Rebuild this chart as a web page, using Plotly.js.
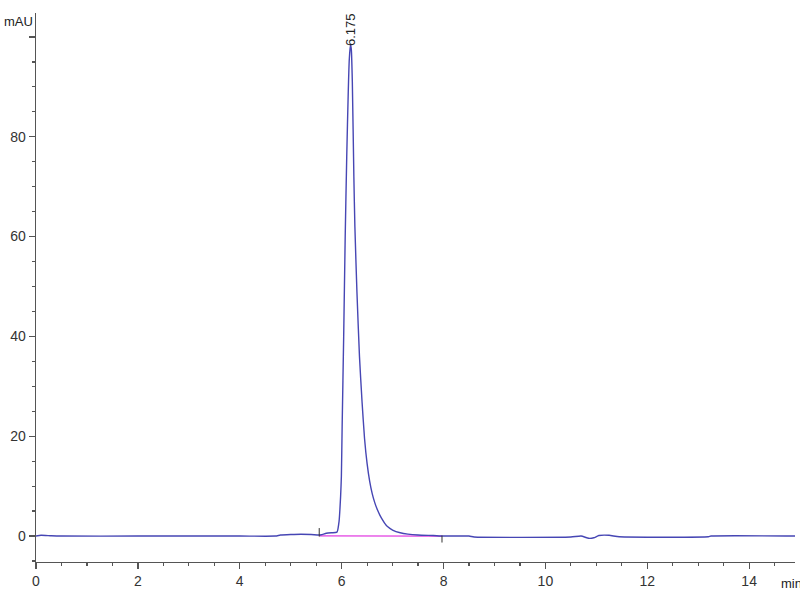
<!DOCTYPE html>
<html>
<head>
<meta charset="utf-8">
<script src="https://cdn.plot.ly/plotly-3.0.1.min.js"></script>
<style>html,body{margin:0;padding:0;background:#fff;}#chart{width:800px;height:600px;}</style>
</head>
<body>
<div id="chart"></div>
<script>
// Chromatogram signal (time in min, absorbance in mAU)
const timeMin = [0, 0.1, 0.3, 0.5, 2.0, 4.0, 4.7, 4.8, 5.0, 5.2, 5.4, 5.55, 5.6, 5.7, 5.8, 5.88,
  5.91, 5.95, 5.98, 5.995, 6.01, 6.04, 6.07, 6.10, 6.13, 6.15, 6.175, 6.19, 6.21, 6.24, 6.26,
  6.30, 6.35, 6.40, 6.45, 6.50, 6.55, 6.60, 6.65, 6.70, 6.75, 6.80, 6.85, 6.90, 7.00, 7.15,
  7.30, 7.50, 7.80, 8.0, 8.5, 8.6, 10.5, 10.7, 10.85, 10.95, 11.05, 11.25, 11.45, 13.2, 13.25, 14.95];
const signalMAU = [0, 0.15, 0.05, 0, 0, 0, 0, 0.2, 0.3, 0.35, 0.3, 0.2, 0.25, 0.55, 0.65, 0.7,
  0.8, 3, 8, 12, 22, 40, 60, 76, 89, 95.5, 98.5, 97.5, 91, 72, 62,
  49, 36, 27, 19.5, 14.5, 11, 8.5, 6.7, 5.3, 4.2, 3.3, 2.5, 1.9, 1.2, 0.65,
  0.38, 0.2, 0.1, 0, 0, -0.2, -0.2, 0, -0.45, -0.35, 0.1, 0.15, -0.15, -0.15, 0, 0];

// Integration baseline
const baseTime = [5.56, 7.97];
const baseMAU = [0.05, 0.0];
// Integration start / end markers
const startMarkTime = [5.56, 5.56];
const startMarkMAU = [-0.1, 1.6];
const endMarkTime = [7.97, 7.97];
const endMarkMAU = [0.1, -1.3];

// Peak annotation
const peakTime = 6.175;
const peakLabel = "6.175";

// Axis ticks
const xTickVals = [0, 2, 4, 6, 8, 10, 12, 14];
const xTickText = ["0", "2", "4", "6", "8", "10", "12", "14"];
const yTickVals = [0, 20, 40, 60, 80, 100];
const yTickText = ["0", "20", "40", "60", "80", ""];

const FONT = "'Liberation Sans Narrow', 'Liberation Sans', Arial, sans-serif";
const axisColor = "#555";

const traces = [
  {x: baseTime, y: baseMAU, mode: "lines", line: {color: "#e23ee2", width: 1.3}, hoverinfo: "skip"},
  {x: timeMin, y: signalMAU, mode: "lines", line: {color: "#4646b4", width: 1.4, shape: "spline", smoothing: 0.5}},
  {x: startMarkTime, y: startMarkMAU, mode: "lines", line: {color: "#333", width: 1}},
  {x: endMarkTime, y: endMarkMAU, mode: "lines", line: {color: "#333", width: 1}}
];

const layout = {
  width: 800, height: 600,
  margin: {l: 36, r: 5, t: 13, b: 38},
  paper_bgcolor: "#fff", plot_bgcolor: "#fff",
  showlegend: false,
  font: {family: FONT, size: 14, color: "#333"},
  xaxis: {
    range: [0, 14.9], showgrid: false, zeroline: false,
    showline: true, linecolor: axisColor, linewidth: 1.3,
    tickmode: "array", tickvals: xTickVals, ticktext: xTickText,
    ticks: "outside", ticklen: 6, tickcolor: axisColor, tickwidth: 1.3,
    minor: {dtick: 0.5, ticks: "outside", ticklen: 3, tickcolor: axisColor, tickwidth: 1.2, showgrid: false},
    tickfont: {family: FONT, size: 14, color: "#333"}
  },
  yaxis: {
    range: [-5.2, 104.8], showgrid: false, zeroline: false,
    showline: true, linecolor: axisColor, linewidth: 1.3,
    tickmode: "array", tickvals: yTickVals, ticktext: yTickText,
    ticks: "outside", ticklen: 6, tickcolor: axisColor, tickwidth: 1.3,
    minor: {dtick: 5, ticks: "outside", ticklen: 3, tickcolor: axisColor, tickwidth: 1.2, showgrid: false},
    tickfont: {family: FONT, size: 14, color: "#333"}
  },
  annotations: [
    {text: "mAU", xref: "paper", yref: "paper", x: -0.045, y: 0.985, xanchor: "left", yanchor: "middle",
     showarrow: false, font: {family: FONT, size: 13, color: "#222"}},
    {text: "min", xref: "paper", yref: "paper", x: 0.979, y: -0.04, xanchor: "left", yanchor: "middle",
     showarrow: false, font: {family: FONT, size: 13, color: "#222"}},
    {text: peakLabel, x: peakTime, y: 101.5, xref: "x", yref: "y", textangle: -90,
     xanchor: "center", yanchor: "middle", showarrow: false, font: {family: FONT, size: 13, color: "#222"}}
  ]
};

Plotly.newPlot("chart", traces, layout, {displayModeBar: false, staticPlot: true});
</script>
</body>
</html>
